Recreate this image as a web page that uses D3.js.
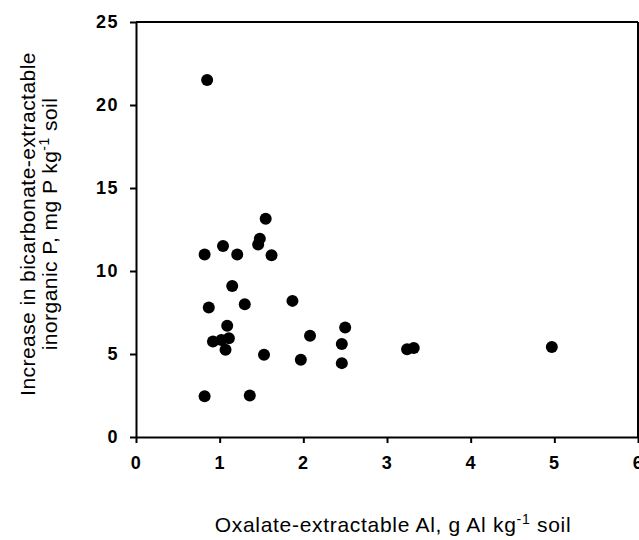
<!DOCTYPE html>
<html>
<head>
<meta charset="utf-8">
<script src="https://cdn.jsdelivr.net/npm/d3@7"></script>
<style>
  body { margin: 0; background: #fff; }
  svg text { font-family: "Liberation Sans", Arial, sans-serif; fill: #000; }
</style>
</head>
<body>
<svg id="chart"></svg>
<script>
// oxalate-extractable Al (g/kg) and increase in bicarbonate P (mg/kg)
const alValues = [0.85, 1.55, 1.04, 1.48, 1.46, 0.82, 1.21, 1.62,
                  1.15, 0.87, 1.30, 1.87,
                  1.09, 1.11, 1.02, 0.92, 1.07,
                  2.50, 2.08, 2.46, 1.53, 1.97, 2.46,
                  0.82, 1.36, 3.24, 3.32, 4.97];
const pValues = [21.5, 13.15, 11.5, 11.95, 11.6, 11.0, 11.0, 10.95,
                 9.1, 7.8, 8.0, 8.2,
                 6.7, 5.95, 5.85, 5.75, 5.25,
                 6.6, 6.1, 5.6, 4.95, 4.65, 4.45,
                 2.45, 2.5, 5.28, 5.36, 5.42];
const xTicks = [0, 1, 2, 3, 4, 5, 6];
const yTicks = [0, 5, 10, 15, 20, 25];

const points = alValues.map((a, i) => ({al: a, p: pValues[i]}));

const width = 639, height = 540;
const margin = {top: 22, right: 1, bottom: 103, left: 136};

const svg = d3.select('#chart')
    .attr('width', width)
    .attr('height', height);

const innerH = height - margin.top - margin.bottom;

const chart = svg.append('g')
    .attr('transform', `translate(${margin.left}, ${margin.top})`);

const xscale = d3.scaleLinear().domain([0, 6]).range([0, 502]);
const yscale = d3.scaleLinear().domain([0, 25]).range([innerH, 0]);

// frame: top and right edges
chart.append('line')
    .attr('x1', 0).attr('x2', xscale(6))
    .attr('y1', 0).attr('y2', 0)
    .attr('stroke', '#000').attr('stroke-width', 2);
chart.append('line')
    .attr('x1', xscale(6)).attr('x2', xscale(6))
    .attr('y1', 0).attr('y2', innerH)
    .attr('stroke', '#000').attr('stroke-width', 2);

const xaxis = d3.axisBottom(xscale)
    .tickValues(xTicks)
    .tickFormat(d3.format('d'))
    .tickSize(6)
    .tickPadding(13)
    .tickSizeOuter(0);

const yaxis = d3.axisLeft(yscale)
    .tickValues(yTicks)
    .tickSize(6)
    .tickPadding(11)
    .tickSizeOuter(0);

const xg = chart.append('g')
    .attr('transform', `translate(0, ${innerH})`)
    .call(xaxis);
const yg = chart.append('g').call(yaxis);

[xg, yg].forEach(g => {
    g.select('.domain').attr('stroke', '#000').attr('stroke-width', 2);
    g.selectAll('.tick line').attr('stroke', '#000').attr('stroke-width', 2);
    g.selectAll('.tick text')
        .style('font-size', '18px')
        .style('font-weight', 'bold')
        .style('letter-spacing', '1.5px')
        .attr('fill', '#000');
});

chart.selectAll('circle')
    .data(points)
    .join('circle')
    .attr('cx', d => xscale(d.al))
    .attr('cy', d => yscale(d.p))
    .attr('r', 6)
    .attr('fill', '#000');

// x axis title
const xt = svg.append('text')
    .attr('x', 393)
    .attr('y', 532)
    .attr('text-anchor', 'middle')
    .style('font-size', '21px')
    .style('letter-spacing', '0.7px');
xt.append('tspan').text('Oxalate-extractable Al, g Al kg');
xt.append('tspan').attr('dy', -8).style('font-size', '14px').text('-1');
xt.append('tspan').attr('dy', 8).text(' soil');

// y axis title, two lines
const yt = svg.append('g')
    .attr('transform', 'translate(0, 224) rotate(-90)');
yt.append('text')
    .attr('x', 0).attr('y', 35)
    .attr('text-anchor', 'middle')
    .style('font-size', '21px')
    .style('letter-spacing', '0.45px')
    .text('Increase in bicarbonate-extractable');
const y2 = yt.append('text')
    .attr('x', 0).attr('y', 57)
    .attr('text-anchor', 'middle')
    .style('font-size', '21px')
    .style('letter-spacing', '0.45px');
y2.append('tspan').text('inorganic P,  mg P kg');
y2.append('tspan').attr('dy', -8).style('font-size', '14px').text('-1');
y2.append('tspan').attr('dy', 8).text(' soil');
</script>
</body>
</html>
